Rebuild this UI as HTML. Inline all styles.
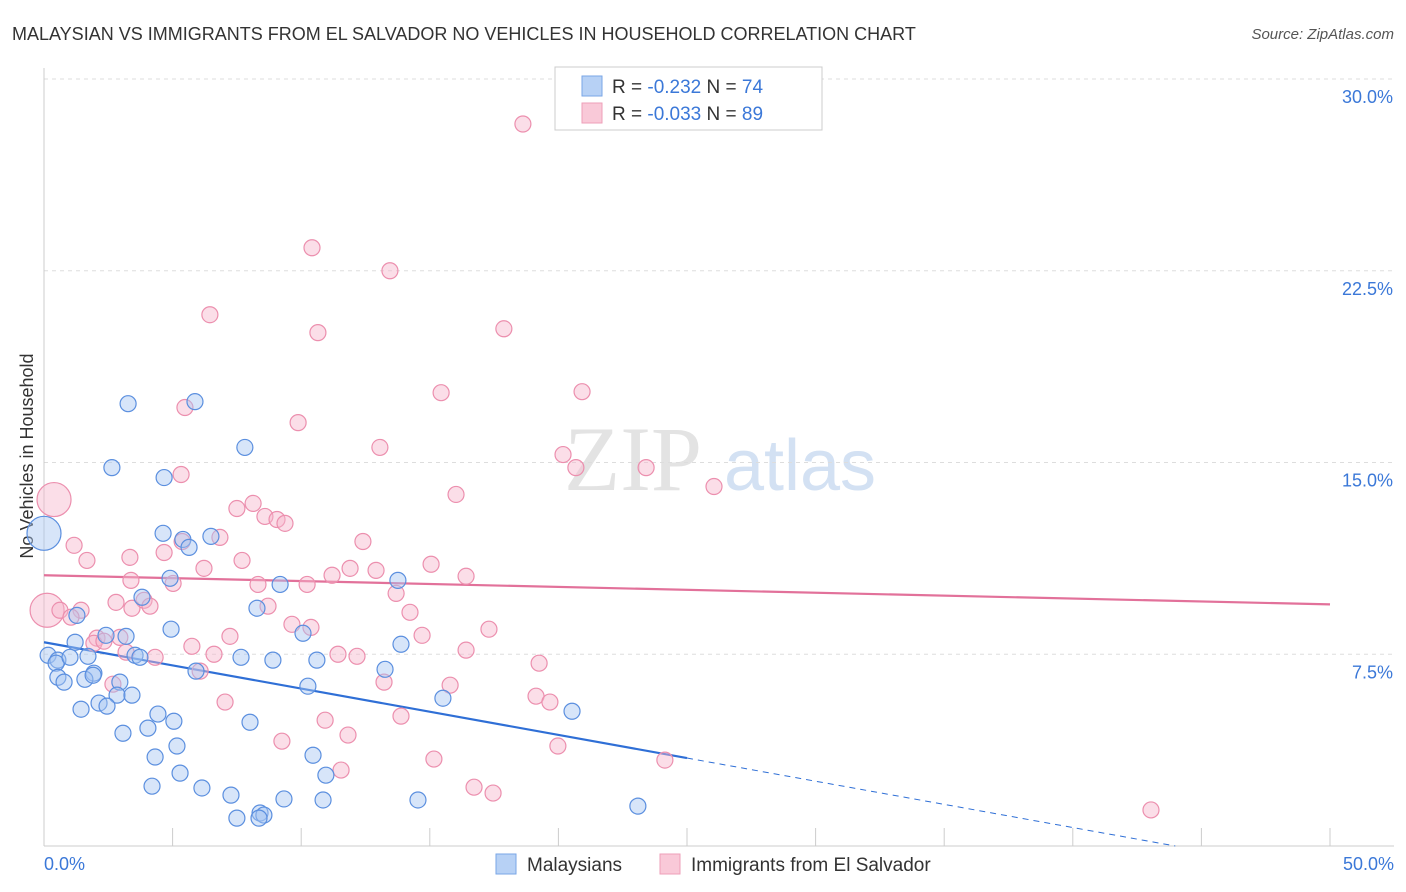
<!DOCTYPE html>
<html><head><meta charset="utf-8">
<style>
body{margin:0;background:#fff;font-family:"Liberation Sans",sans-serif;}
#wrap{position:relative;width:1406px;height:892px;overflow:hidden;}
</style></head>
<body>
<div id="wrap">
<svg id="chart" width="1406" height="892" xmlns="http://www.w3.org/2000/svg">
<text x="12" y="40" font-size="18" fill="#333">MALAYSIAN VS IMMIGRANTS FROM EL SALVADOR NO VEHICLES IN HOUSEHOLD CORRELATION CHART</text>
<text x="1394" y="39" font-size="15" fill="#555" font-style="italic" text-anchor="end">Source: ZipAtlas.com</text>
<text x="33" y="456" font-size="18" fill="#333" text-anchor="middle" transform="rotate(-90 33 456)">No Vehicles in Household</text>
<g>
<text x="633" y="490" font-size="92" fill="#e3e3e3" text-anchor="middle" font-family="Liberation Serif,serif">ZIP</text>
<text x="800" y="490" font-size="72" fill="#d3e1f3" text-anchor="middle">atlas</text>
</g>
<g id="grid"></g><g id="axes"></g><g id="trend"></g><g id="points"></g>
<g>
<rect x="555" y="67" width="267" height="63" fill="#fff" stroke="#ccc"/>
<rect x="582" y="76" width="20" height="20" fill="#b7d1f5" stroke="#7aa6e6"/>
<rect x="582" y="103" width="20" height="20" fill="#f9c9d8" stroke="#ee9fb8"/>
<text x="612" y="93" font-size="19" fill="#333">R = <tspan fill="#3b78d8">-0.232</tspan>   N = <tspan fill="#3b78d8">74</tspan></text>
<text x="612" y="120" font-size="19" fill="#333">R = <tspan fill="#3b78d8">-0.033</tspan>   N = <tspan fill="#3b78d8">89</tspan></text>
</g>
<g>
<rect x="496" y="854" width="20" height="20" fill="#b7d1f5" stroke="#7aa6e6"/>
<text x="527" y="871" font-size="19" fill="#333">Malaysians</text>
<rect x="660" y="854" width="20" height="20" fill="#f9c9d8" stroke="#ee9fb8"/>
<text x="691" y="871" font-size="19" fill="#333">Immigrants from El Salvador</text>
</g>
</svg>
</div>
<script>
const yTicks=[7.5,15,22.5,30];
const yTickLabels=["7.5%","15.0%","22.5%","30.0%"];
const xTickLabels=["0.0%","50.0%"];
const blueX=[3.27,5.87,7.81,2.64,4.67,4.63,5.40,6.49,5.64,4.90,9.18,13.76,3.81,8.28,1.28,4.94,10.07,13.88,2.41,1.21,3.19,0.16,0.54,3.54,3.73,7.66,8.90,10.61,13.26,0.47,1.71,1.01,5.91,1.94,0.54,0.78,1.59,1.91,2.95,10.26,2.84,3.42,15.51,2.14,2.45,1.44,20.53,4.43,5.05,8.01,4.04,3.07,5.17,4.32,10.46,5.29,10.96,4.20,6.14,7.27,9.33,10.85,14.54,8.40,8.55,7.50,8.36,23.09,0];
const blueY=[17.30,17.38,15.59,14.80,14.41,12.23,11.99,12.11,11.68,10.47,10.23,10.39,9.73,9.30,9.02,8.48,8.32,7.89,8.24,7.97,8.20,7.46,7.27,7.46,7.38,7.38,7.27,7.27,6.91,7.15,7.42,7.38,6.84,6.76,6.60,6.41,6.52,6.68,6.41,6.25,5.90,5.90,5.78,5.59,5.47,5.35,5.27,5.16,4.88,4.84,4.61,4.41,3.91,3.48,3.55,2.85,2.77,2.34,2.27,1.99,1.84,1.80,1.80,1.29,1.21,1.09,1.09,1.56,12.23];
const blueBig=[68];
const pinkX=[18.62,10.42,13.45,6.45,10.65,17.88,20.92,15.44,5.48,9.88,13.06,20.18,20.68,23.41,5.33,26.05,16.02,0.39,8.13,7.50,8.59,9.06,9.37,6.84,5.37,12.40,1.17,4.67,3.34,1.67,7.70,6.22,11.90,12.91,15.05,16.41,3.38,11.20,5.02,8.32,10.23,13.69,3.89,2.80,4.12,8.71,14.23,3.42,1.44,0.12,0.62,1.05,9.64,10.38,17.30,7.23,14.70,2.06,2.95,1.94,2.33,5.75,6.61,3.19,4.32,11.43,12.17,16.41,19.25,6.07,13.22,15.79,2.68,7.04,19.13,19.67,13.88,10.93,11.82,9.25,19.98,15.16,24.14,11.55,16.72,17.46,43.04];
const pinkY=[28.24,23.40,22.50,20.78,20.08,20.23,17.77,17.73,17.15,16.56,15.59,15.31,14.80,14.80,14.53,14.06,13.75,13.55,13.40,13.20,12.89,12.77,12.62,12.07,11.91,11.91,11.76,11.48,11.29,11.17,11.17,10.86,10.86,10.78,11.02,10.55,10.39,10.59,10.27,10.23,10.23,9.88,9.61,9.53,9.38,9.38,9.14,9.30,9.22,9.22,9.22,8.95,8.67,8.55,8.48,8.20,8.24,8.13,8.16,7.93,8.01,7.81,7.50,7.58,7.38,7.50,7.42,7.66,7.15,6.84,6.41,6.29,6.33,5.63,5.86,5.63,5.08,4.92,4.34,4.10,3.91,3.40,3.36,2.97,2.30,2.07,1.41];
const pinkBig=[17,49];
const blueTrend=[7.97,3.44]; // y at x=0 and x=25
const pinkTrend=[10.59,9.45]; // y at x=0 and x=50
const NS="http://www.w3.org/2000/svg";
const X0=44,X1=1330,Y0=846,Y30=79;
const xs=v=>X0+(X1-X0)*v/50;
const ys=v=>Y0-(Y0-Y30)*v/30;
function mk(tag,attrs,parent){const e=document.createElementNS(NS,tag);for(const k in attrs)e.setAttribute(k,attrs[k]);parent.appendChild(e);return e;}
const grid=document.getElementById('grid'),axes=document.getElementById('axes'),trend=document.getElementById('trend'),pts=document.getElementById('points');
yTicks.forEach((t,i)=>{
 const l=mk('line',{x1:X0,x2:1394,y1:ys(t),y2:ys(t),stroke:'#ddd','stroke-dasharray':'4 4'},grid);
 
 
 const tx=mk('text',{x:1393,y:ys(t)+24,'font-size':18,fill:'#3b78d8','text-anchor':'end'},axes);
 tx.textContent=yTickLabels[i];
 
 
});
let a=mk('line',{x1:X0,x2:X0,y1:68,y2:Y0,stroke:'#ccc'},axes);


a=mk('line',{x1:X0,x2:1394,y1:Y0,y2:Y0,stroke:'#ccc'},axes);


for(let i=0;i<=10;i++){
 const t=mk('line',{x1:xs(i*5),x2:xs(i*5),y1:Y0,y2:Y0-18,stroke:'#ccc'},axes);
 
 
}
[[X0,'start',0],[1394,'end',1]].forEach(([x,anc,i])=>{
 const tx=mk('text',{x:x,y:870,'font-size':18,fill:'#3b78d8','text-anchor':anc},axes);
 tx.textContent=xTickLabels[i];
 
 
});
function dots(X,Y,big,fill,stroke,name){
 X.forEach((x,i)=>{
  const r=big.includes(i)?17:8;
  const c=mk('circle',{cx:xs(x),cy:ys(Y[i]),r:r,fill:fill,'fill-opacity':0.45,stroke:stroke,'stroke-width':1.2},pts);
  
  
 });
}
dots(pinkX,pinkY,pinkBig,'#f7b6cb','#ec8fae','point-el-salvador');
dots(blueX,blueY,blueBig,'#a6c6f2','#5b8fdf','point-malaysian');
const bSlope=(blueTrend[1]-blueTrend[0])/25;
let t=mk('line',{x1:xs(0),y1:ys(blueTrend[0]),x2:xs(25),y2:ys(blueTrend[1]),stroke:'#2f6fd6','stroke-width':2.2},trend);


const xEnd=-blueTrend[0]/bSlope;
t=mk('line',{x1:xs(25),y1:ys(blueTrend[1]),x2:xs(xEnd),y2:ys(0),stroke:'#2f6fd6','stroke-width':1,'stroke-dasharray':'6 5'},trend);


t=mk('line',{x1:xs(0),y1:ys(pinkTrend[0]),x2:xs(50),y2:ys(pinkTrend[1]),stroke:'#e2719a','stroke-width':2.2},trend);


</script>
</body></html>
